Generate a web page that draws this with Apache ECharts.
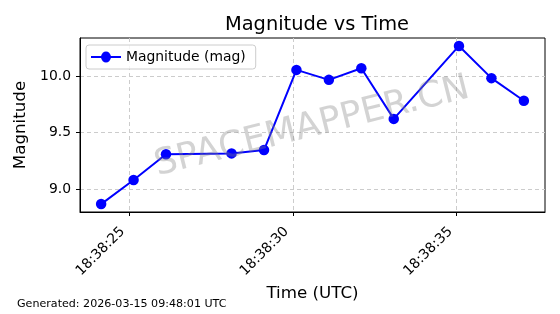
<!DOCTYPE html>
<html>
<head>
<meta charset="utf-8">
<script src="https://cdn.jsdelivr.net/npm/echarts@6/dist/echarts.min.js"></script>
<style>html,body{margin:0;padding:0;background:#fff}#c{width:560px;height:314px}</style>
</head>
<body>
<div id="c"></div>
<script>
// seconds after 18:38:00 UTC
const timeSeconds = [24.15, 25.14, 26.13, 28.13, 29.12, 30.11, 31.10, 32.09, 33.08, 35.07, 36.06, 37.05];
const magnitudes = [8.867, 9.08, 9.307, 9.315, 9.345, 10.053, 9.965, 10.068, 9.62, 10.265, 9.98, 9.78];
const xTicks = [25, 30, 35];
const yTicks = [9.0, 9.5, 10.0];
const titleText = 'Magnitude vs Time';
const seriesName = 'Magnitude (mag)';
const generatedText = 'Generated: 2026-03-15 09:48:01 UTC';
const watermark = 'SPACEMAPPER.CN';

const font = 'DejaVu Sans';
const chart = echarts.init(document.getElementById('c'), null, {renderer: 'canvas'});
const pad = v => (v < 10 ? '0' : '') + Math.round(v);
chart.setOption({
  animation: false,
  textStyle: {fontFamily: font},
  title: {text: titleText, left: 312, top: 10, textAlign: 'center',
    textStyle: {fontFamily: font, fontSize: 19.4, fontWeight: 'normal', color: '#000'}},
  grid: {left: 80, right: 15, top: 38, bottom: 102, show: true, borderColor: '#000', borderWidth: 1, containLabel: false},
  legend: {left: 86, top: 45, orient: 'vertical', padding: [5, 10, 5, 5], itemGap: 0,
    borderColor: '#ccc', borderWidth: 1, borderRadius: 3, backgroundColor: 'rgba(255,255,255,0.8)',
    itemWidth: 30, itemHeight: 11,
    textStyle: {fontFamily: font, fontSize: 13.9, color: '#000'},
    data: [{name: seriesName,
      icon: 'path://M0,7L10.5,7A4.5,4.5 0 0 1 19.5,7L30,7L30,9L19.5,9A4.5,4.5 0 0 1 10.5,9L0,9Z M15,3A5,5 0 1 1 14.99,3Z'}]},
  xAxis: {type: 'value', min: 23.505, max: 37.695,
    name: 'Time (UTC)', nameLocation: 'middle', nameGap: 69,
    nameTextStyle: {fontFamily: font, fontSize: 16.7, color: '#000'},
    axisLine: {show: true, lineStyle: {color: '#000'}},
    axisTick: {show: true, length: 4, lineStyle: {color: '#000'}, customValues: xTicks},
    axisLabel: {show: true, rotate: 45, fontSize: 13.9, color: '#000', margin: 11, padding: [0, 9, 0, 0], customValues: xTicks,
      formatter: v => '18:38:' + pad(v)},
    splitLine: {show: true, lineStyle: {color: '#ccc', type: [4, 3]}}
  },
  yAxis: {type: 'value', min: 8.797, max: 10.335,
    name: 'Magnitude', nameLocation: 'middle', nameGap: 43, nameRotate: 90,
    nameTextStyle: {fontFamily: font, fontSize: 16.7, color: '#000'},
    axisLine: {show: true, lineStyle: {color: '#000'}},
    axisTick: {show: true, length: 4, lineStyle: {color: '#000'}, customValues: yTicks},
    axisLabel: {show: true, fontSize: 13.9, color: '#000', margin: 9, customValues: yTicks,
      formatter: v => v.toFixed(1)},
    splitLine: {show: true, lineStyle: {color: '#ccc', type: [4, 3]}}
  },
  graphic: [
    {type: 'text', left: 17, top: 299, style: {text: generatedText, fontFamily: font, fontSize: 11.1, fill: '#000'}},
    {type: 'text', x: 312, y: 127, rotation: 14 * Math.PI / 180, z: 100,
      style: {text: watermark, fontFamily: font, fontSize: 36, fill: 'rgba(128,128,128,0.35)', align: 'center', verticalAlign: 'middle'}}
  ],
  series: [{
    name: seriesName, type: 'line',
    data: timeSeconds.map((t, i) => [t, magnitudes[i]]),
    symbol: 'circle', symbolSize: 10.5, showSymbol: true,
    lineStyle: {color: '#0000ff', width: 2},
    itemStyle: {color: '#0000ff'}
  }]
});
</script>
</body>
</html>
